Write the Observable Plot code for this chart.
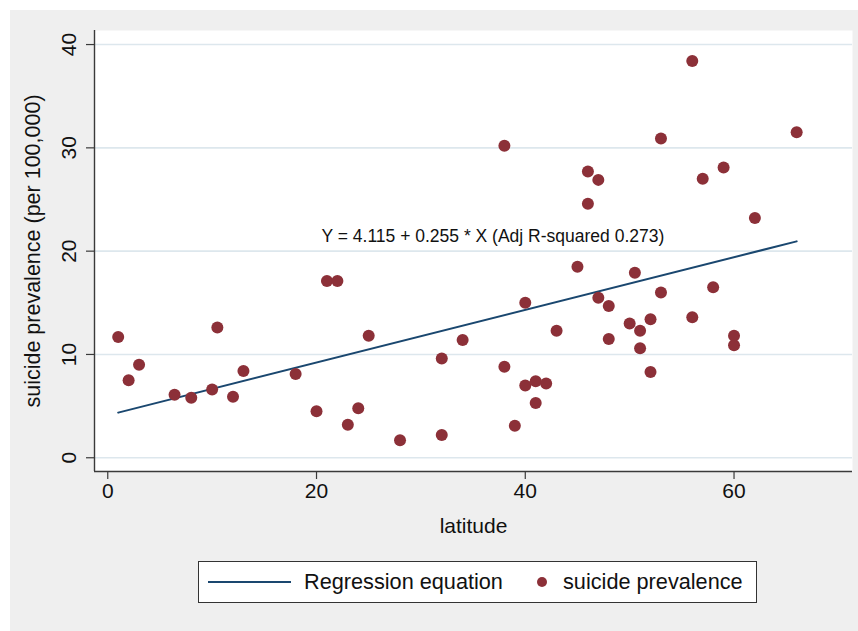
<!DOCTYPE html>
<html>
<head>
<meta charset="utf-8">
<script src="https://cdn.jsdelivr.net/npm/d3@7"></script>
<script src="https://cdn.jsdelivr.net/npm/@observablehq/plot@0.6"></script>
<style>
  html, body { margin: 0; padding: 0; background: #ffffff; }
  body { width: 858px; height: 631px; position: relative; overflow: hidden;
         font-family: "Liberation Sans", Arial, Helvetica, sans-serif; }
  #wrap { position: absolute; left: 10px; top: 10px; width: 848px; height: 621px; background: #efefef; }
  #chart { position: absolute; left: 0; top: 0; }
  #legend { position: absolute; left: 188px; top: 551px; width: 557px; height: 40px;
            background: #ffffff; border: 1px solid #333; }
  #legend .item { position: absolute; top: 0; height: 40px; display: flex; align-items: center;
                  font-size: 21.7px; color: #111; white-space: nowrap; }
</style>
</head>
<body>
<div id="wrap">
  <div id="chart"></div>
  <div id="legend"></div>
</div>
<script>
// ---- data ----
const latitude = [1, 2, 3, 6.4, 8, 10, 10.5, 12, 13, 18,
  20, 21, 22, 23, 24, 25, 28, 32, 32, 34,
  38, 38, 39, 40, 40, 41, 41, 42, 43, 45,
  46, 46, 47, 47, 48, 48, 50, 50.5, 51, 51,
  52, 52, 53, 53, 56, 56, 57, 58, 59, 60,
  60, 62, 66];
const prevalence = [11.7, 7.5, 9.0, 6.1, 5.8, 6.6, 12.6, 5.9, 8.4, 8.1,
  4.5, 17.1, 17.1, 3.2, 4.8, 11.8, 1.7, 9.6, 2.2, 11.4,
  30.2, 8.8, 3.1, 15.0, 7.0, 7.4, 5.3, 7.2, 12.3, 18.5,
  27.7, 24.6, 26.9, 15.5, 14.7, 11.5, 13.0, 17.9, 12.3, 10.6,
  13.4, 8.3, 30.9, 16.0, 38.4, 13.6, 27.0, 16.5, 28.1, 11.8,
  10.9, 23.2, 31.5];
const intercept = 4.115;
const slope = 0.255;
const adjR2 = 0.273;
const xTicks = [0, 20, 40, 60];
const yTicks = [0, 10, 20, 30, 40];
const xTitle = "latitude";
const yTitle = "suicide prevalence (per 100,000)";
const seriesLine = "Regression equation";
const seriesDots = "suicide prevalence";

// ---- derived tables ----
const points = latitude.map((x, i) => ({latitude: x, prevalence: prevalence[i]}));
const [xMin, xMax] = d3.extent(latitude);
const regLine = [xMin, xMax].map(x => ({latitude: x, prevalence: intercept + slope * x}));
const equation = `Y = ${intercept.toFixed(3)} + ${slope.toFixed(3)} * X (Adj R-squared ${adjR2.toFixed(3)})`;

const xDomain = [-1.27, 71.35];
const yDomain = [-1.33, 41.36];
const navy = "#1a476f";
const maroon = "#8c3038";
const axisColor = "#3a3a3a";
const font = "Liberation Sans, Arial, Helvetica, sans-serif";

const chart = Plot.plot({
  width: 848,
  height: 530,
  marginLeft: 84,
  marginRight: 6,
  marginTop: 20,
  marginBottom: 69,
  style: {background: "transparent", fontFamily: font, overflow: "visible"},
  x: {domain: xDomain},
  y: {domain: yDomain},
  marks: [
    Plot.frame({fill: "#ffffff", stroke: null}),
    Plot.gridY(yTicks, {stroke: "#dde7ed", strokeOpacity: 1, strokeWidth: 1.6}),
    Plot.ruleX([xDomain[0]], {stroke: axisColor, strokeWidth: 1.4}),
    Plot.ruleY([yDomain[0]], {stroke: axisColor, strokeWidth: 1.4}),
    Plot.axisX({ticks: xTicks, tickSize: 8, tickPadding: 4, fontSize: 21, stroke: axisColor,
                strokeWidth: 1.2, fill: "#111", label: null}),
    Plot.axisY({ticks: yTicks, tickSize: 8, tickPadding: 11, tickRotate: -90, fontSize: 21,
                stroke: axisColor, strokeWidth: 1.2, fill: "#111", label: null}),
    Plot.text([xTitle], {text: d => d, frameAnchor: "bottom", dy: 55, fontSize: 21,
                         lineAnchor: "middle", fill: "#111"}),
    Plot.text([yTitle], {text: d => d, frameAnchor: "left", dx: -61, rotate: -90, fontSize: 21.5,
                         textAnchor: "middle", lineAnchor: "middle", fill: "#111"}),
    Plot.line(regLine, {x: "latitude", y: "prevalence", stroke: navy, strokeWidth: 2}),
    Plot.dot(points, {x: "latitude", y: "prevalence", r: 6, fill: maroon, stroke: "none"}),
    Plot.text([equation], {text: d => d, x: () => 36.9, y: () => 21.4, fontSize: 17.5,
                           lineAnchor: "middle", fill: "#111"})
  ]
});
document.getElementById("chart").appendChild(chart);

// ---- legend ----
const legend = document.getElementById("legend");
legend.innerHTML = `
  <div class="item" style="left:9px">
    <svg width="83" height="6" style="margin-right:13px"><line x1="0" x2="83" y1="3" y2="3" stroke="${navy}" stroke-width="2.2"/></svg>
    <span>${seriesLine}</span>
  </div>
  <div class="item" style="left:337px">
    <svg width="12" height="12" style="margin-right:15px"><circle cx="6" cy="6" r="5" fill="${maroon}"/></svg>
    <span>${seriesDots}</span>
  </div>`;
</script>
</body>
</html>
